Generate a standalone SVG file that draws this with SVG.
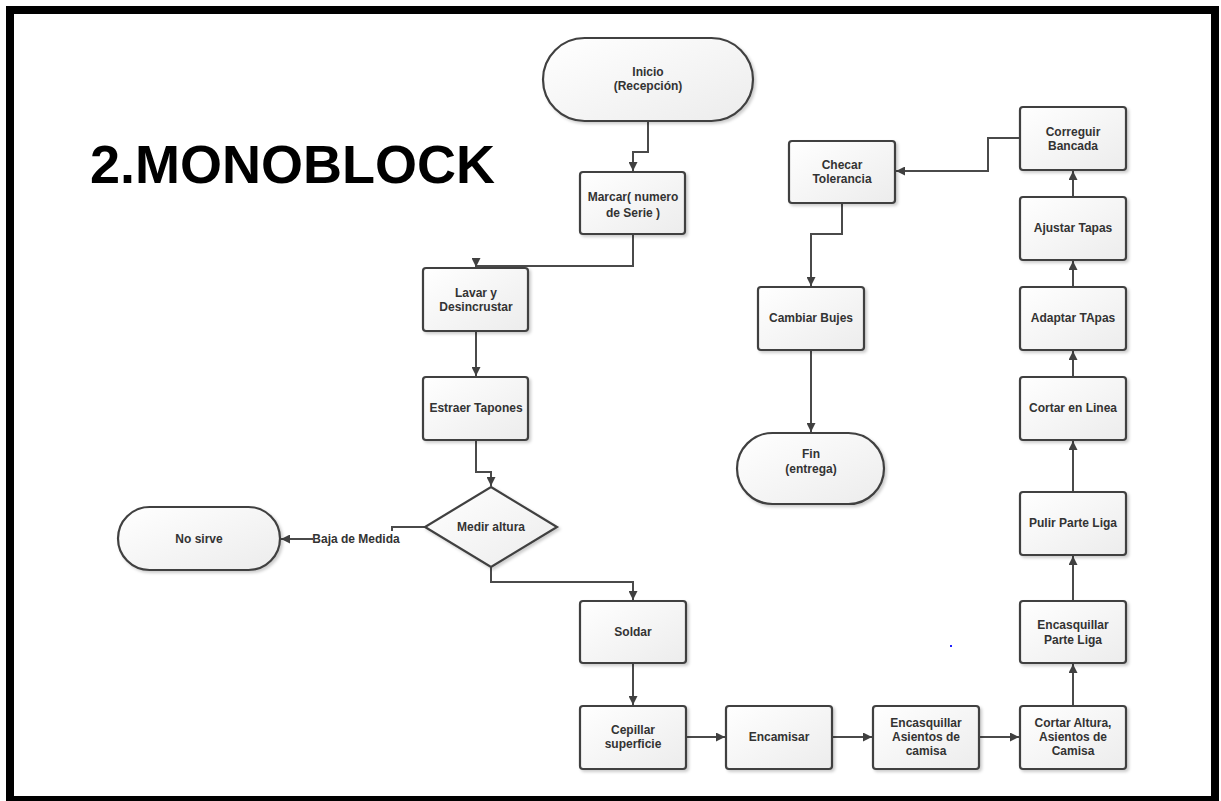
<svg xmlns="http://www.w3.org/2000/svg" width="1221" height="801" viewBox="0 0 1221 801">
<defs>
<linearGradient id="g" x1="0" y1="0" x2="1" y2="1">
<stop offset="0" stop-color="#ffffff"/>
<stop offset="1" stop-color="#ececec"/>
</linearGradient>
<filter id="sh" x="-10%" y="-10%" width="130%" height="130%">
<feDropShadow dx="2" dy="2" stdDeviation="1.5" flood-color="#000" flood-opacity="0.2"/>
</filter>
<marker id="ar" viewBox="0 0 10 10" refX="10" refY="5" markerWidth="9" markerHeight="9" markerUnits="userSpaceOnUse" orient="auto">
<path d="M0,0 L10,5 L0,10 z" fill="#404040"/>
</marker>
<style>
.n{fill:url(#g);stroke:#404040;stroke-width:2.2;filter:url(#sh)}
.t{font-family:"Liberation Sans",Arial,sans-serif;font-weight:bold;font-size:12px;fill:#333;text-anchor:middle}
.c{fill:none;stroke:#4a4a4a;stroke-width:2}
.ca{fill:none;stroke:#4a4a4a;stroke-width:2;marker-end:url(#ar)}
</style>
</defs>
<rect x="0" y="0" width="1221" height="801" fill="#fff"/>
<rect x="10" y="10" width="1205" height="790" fill="none" stroke="#000" stroke-width="8"/>
<text x="90" y="183" font-family="Liberation Sans,Arial,sans-serif" font-weight="bold" font-size="54" fill="#000">2.MONOBLOCK</text>

<g id="connectors">
<path class="ca" d="M648,121 V152 H633 V171"/>
<path class="ca" d="M633,234 V266 H476 V267"/>
<path class="ca" d="M476,331 V376"/>
<path class="ca" d="M476,440 V472 H491 V486"/>
<path class="c" d="M425,527 H392 V531"/>
<path class="ca" d="M313,539 H281"/>
<path class="ca" d="M491,567 V582 H633 V600"/>
<path class="ca" d="M633,663 V705"/>
<path class="ca" d="M686,737 H725"/>
<path class="ca" d="M832,737 H872"/>
<path class="ca" d="M979,737 H1019"/>
<path class="ca" d="M1073,706 V664"/>
<path class="ca" d="M1073,601 V556"/>
<path class="ca" d="M1073,492 V441"/>
<path class="ca" d="M1073,377 V351"/>
<path class="ca" d="M1073,287 V261"/>
<path class="ca" d="M1073,197 V171"/>
<path class="ca" d="M1020,138 H988 V171 H896"/>
<path class="ca" d="M842,203 V234 H811 V286"/>
<path class="ca" d="M811,350 V432"/>
<text class="t" x="356" y="543">Baja de Medida</text>
</g>

<g id="inicio"><rect class="n" x="543" y="38" width="210" height="83" rx="41.5"/><text class="t" x="648" y="76">Inicio</text><text class="t" x="648" y="90">(Recepción)</text></g>
<g id="marcar"><rect class="n" x="580" y="172" width="105" height="62" rx="3"/><text class="t" x="633" y="201">Marcar( numero</text><text class="t" x="633" y="217">de Serie )</text></g>
<g id="lavar"><rect class="n" x="423" y="268" width="105" height="63" rx="3"/><text class="t" x="476" y="297">Lavar y</text><text class="t" x="476" y="311">Desincrustar</text></g>
<g id="estraer"><rect class="n" x="423" y="377" width="105" height="63" rx="3"/><text class="t" x="476" y="412">Estraer Tapones</text></g>
<g id="medir"><path class="n" d="M491,487 L557,527 L491,567 L425,527 Z"/><text class="t" x="491" y="531">Medir altura</text></g>
<g id="nosirve"><rect class="n" x="118" y="507" width="162" height="63" rx="31.5"/><text class="t" x="199" y="543">No sirve</text></g>
<g id="soldar"><rect class="n" x="580" y="601" width="106" height="62" rx="3"/><text class="t" x="633" y="636">Soldar</text></g>
<g id="cepillar"><rect class="n" x="580" y="706" width="106" height="63" rx="3"/><text class="t" x="633" y="734">Cepillar</text><text class="t" x="633" y="748">superficie</text></g>
<g id="encamisar"><rect class="n" x="726" y="706" width="106" height="63" rx="3"/><text class="t" x="779" y="741">Encamisar</text></g>
<g id="encasquillar-asientos"><rect class="n" x="873" y="706" width="106" height="63" rx="3"/><text class="t" x="926" y="727">Encasquillar</text><text class="t" x="926" y="741">Asientos de</text><text class="t" x="926" y="755">camisa</text></g>
<g id="cortar-altura"><rect class="n" x="1020" y="706" width="106" height="63" rx="3"/><text class="t" x="1073" y="727">Cortar Altura,</text><text class="t" x="1073" y="741">Asientos de</text><text class="t" x="1073" y="755">Camisa</text></g>
<g id="encasquillar-liga"><rect class="n" x="1020" y="601" width="106" height="62" rx="3"/><text class="t" x="1073" y="629">Encasquillar</text><text class="t" x="1073" y="644">Parte Liga</text></g>
<g id="pulir"><rect class="n" x="1020" y="492" width="106" height="63" rx="3"/><text class="t" x="1073" y="527">Pulir Parte Liga</text></g>
<g id="cortar-linea"><rect class="n" x="1020" y="377" width="106" height="63" rx="3"/><text class="t" x="1073" y="412">Cortar en Linea</text></g>
<g id="adaptar"><rect class="n" x="1020" y="287" width="106" height="63" rx="3"/><text class="t" x="1073" y="322">Adaptar TApas</text></g>
<g id="ajustar"><rect class="n" x="1020" y="197" width="106" height="63" rx="3"/><text class="t" x="1073" y="232">Ajustar Tapas</text></g>
<g id="correguir"><rect class="n" x="1020" y="107" width="106" height="63" rx="3"/><text class="t" x="1073" y="136">Correguir</text><text class="t" x="1073" y="150">Bancada</text></g>
<g id="checar"><rect class="n" x="789" y="141" width="106" height="62" rx="3"/><text class="t" x="842" y="169">Checar</text><text class="t" x="842" y="183">Tolerancia</text></g>
<g id="cambiar"><rect class="n" x="758" y="287" width="106" height="63" rx="3"/><text class="t" x="811" y="322">Cambiar Bujes</text></g>
<g id="fin"><rect class="n" x="737" y="433" width="147" height="71" rx="35.5"/><text class="t" x="811" y="458">Fin</text><text class="t" x="811" y="473">(entrega)</text></g>
<rect x="950" y="645" width="2" height="2" fill="#2020ff"/>
</svg>
